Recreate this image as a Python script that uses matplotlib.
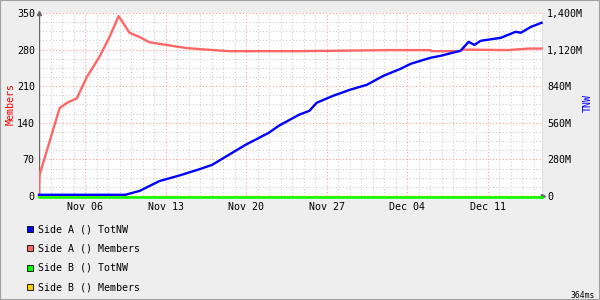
#!/usr/bin/env python3
"""Side A / Side B members and TotNW, rrdtool-style graph."""

import numpy as np
import pandas as pd
import matplotlib
matplotlib.use('Agg')
import matplotlib.pyplot as plt
import matplotlib.dates as mdates
import matplotlib.transforms as mtransforms
from matplotlib.patches import Rectangle
from matplotlib.ticker import FixedLocator, MultipleLocator

# Side A members (left axis)
members_t = ["2023-11-02 00:00", "2023-11-02 01:00", "2023-11-02 23:00", "2023-11-03 19:00",
             "2023-11-04 10:00", "2023-11-05 07:00", "2023-11-06 04:00", "2023-11-07 06:00",
             "2023-11-08 03:00", "2023-11-08 22:00", "2023-11-09 21:00", "2023-11-10 18:00",
             "2023-11-11 14:00", "2023-11-13 01:00", "2023-11-14 19:00", "2023-11-15 22:00",
             "2023-11-18 12:00", "2023-11-24 14:00", "2023-12-02 10:00", "2023-12-06 00:00",
             "2023-12-06 03:00", "2023-12-08 14:00", "2023-12-08 18:00", "2023-12-12 16:00",
             "2023-12-14 14:00", "2023-12-15 16:00"]
members_v = [0, 40, 107, 168, 178, 187, 228, 266, 304, 344, 312, 304, 294, 289, 283, 281,
             277, 277, 279, 279, 277, 277, 280, 279, 282, 282]

# Side A TotNW in millions (right axis)
totnw_t = ["2023-11-02 00:00", "2023-11-09 12:00", "2023-11-10 18:00", "2023-11-12 11:00",
           "2023-11-14 05:00", "2023-11-15 22:00", "2023-11-17 01:00", "2023-11-19 23:00",
           "2023-11-21 23:00", "2023-11-22 20:00", "2023-11-24 14:00", "2023-11-25 12:00",
           "2023-11-26 03:00", "2023-11-27 13:00", "2023-11-29 00:00", "2023-11-30 12:00",
           "2023-12-01 22:00", "2023-12-03 10:00", "2023-12-04 07:00", "2023-12-06 00:00",
           "2023-12-06 21:00", "2023-12-08 15:00", "2023-12-09 08:00", "2023-12-09 20:00",
           "2023-12-10 09:00", "2023-12-12 03:00", "2023-12-13 10:00", "2023-12-13 21:00",
           "2023-12-14 18:00", "2023-12-15 16:00"]
totnw_v = [0, 0, 30, 105, 148, 195, 229, 383, 474, 528, 612, 643, 704, 757, 803, 842, 910,
           964, 1002, 1048, 1063, 1102, 1170, 1147, 1178, 1201, 1247, 1240, 1285, 1316]

# Side B is flat zero over the whole range
side_b_t = ["2023-11-02 00:00", "2023-12-15 16:00"]
side_b_v = [0, 0]

legend_labels = ["Side A () TotNW", "Side A () Members", "Side B () TotNW", "Side B () Members"]
legend_colors = ["#0000FF", "#FF6666", "#00FF00", "#FFCC00"]

left_ticks = [0, 70, 140, 210, 280, 350]
right_ticks = [0, 280, 560, 840, 1120, 1400]
right_labels = ["0", "280M", "560M", "840M", "1,120M", "1,400M"]

MONO = "DejaVu Sans Mono"
FS = 7.2


def main():
    plt.rcParams['font.family'] = MONO
    fig = plt.figure(figsize=(6, 3), dpi=100, facecolor='#EEEEEE')
    ax = fig.add_axes([39 / 600, 1 - 196 / 300, 504 / 600, 183 / 300])
    ax.set_facecolor('white')
    ax2 = ax.twinx()

    mt = pd.to_datetime(members_t)
    tt = pd.to_datetime(totnw_t)
    bt = pd.to_datetime(side_b_t)

    ax.set_xlim(pd.Timestamp("2023-11-02 00:00"), pd.Timestamp("2023-12-15 19:00"))
    ax.set_ylim(0, 350)
    ax2.set_ylim(0, 1400)

    # grid
    ax.xaxis.set_major_locator(mdates.WeekdayLocator(byweekday=mdates.MO))
    ax.xaxis.set_minor_locator(mdates.DayLocator())
    ax.xaxis.set_major_formatter(mdates.DateFormatter('%b %d'))
    ax.yaxis.set_major_locator(FixedLocator(left_ticks))
    ax.yaxis.set_minor_locator(MultipleLocator(17.5))
    ax.grid(which='minor', color='#D0D0D0', ls=(0, (1, 2)), lw=0.8)
    ax.grid(which='major', color='#FFA0A0', ls=(0, (1, 2)), lw=0.8)
    ax.set_axisbelow(True)

    # rrdtool draws the zero lines on adjacent pixel rows, so nudge them apart
    up = mtransforms.offset_copy(ax2.transData, fig=fig, x=0, y=1.2, units='dots')
    down = mtransforms.offset_copy(ax2.transData, fig=fig, x=0, y=-0.8, units='dots')

    ax.plot(mt, members_v, color='#FF6666', lw=1.7, zorder=3)
    ax.plot(bt, side_b_v, color='#FFCC00', lw=1.6, zorder=3, clip_on=False,
            transform=mtransforms.offset_copy(ax.transData, fig=fig, x=0, y=-0.8, units='dots'))
    ax2.plot(bt, side_b_v, color='#00FF00', lw=1.8, zorder=3, clip_on=False, transform=down)
    ax2.plot(tt, totnw_v, color='#0000FF', lw=1.7, zorder=4, clip_on=False, transform=up)

    ax2.yaxis.set_major_locator(FixedLocator(right_ticks))
    ax2.set_yticklabels(right_labels)

    for a in (ax, ax2):
        a.tick_params(which='both', length=0, labelsize=FS, colors='black')
        for s in a.spines.values():
            s.set_visible(False)
    ax.tick_params(axis='y', pad=3)
    ax2.tick_params(axis='y', pad=3)
    ax.tick_params(axis='x', pad=4)

    # axis lines with arrows
    ax.axvline(ax.get_xlim()[0], color='#666666', lw=1.0, zorder=2)
    ax.axvline(ax.get_xlim()[1], color='#666666', lw=1.0, zorder=2)
    ax.plot([0], [1.0], marker='^', ms=3, color='#666666', transform=ax.transAxes, clip_on=False)
    ax.plot([1.0], [0], marker='>', ms=3, color='#666666', transform=ax.transAxes, clip_on=False, zorder=5)

    fig.text(11 / 600, 1 - 104 / 300, "Members", color='#FF0000', rotation=90,
             ha='center', va='center', fontsize=FS)
    fig.text(588 / 600, 1 - 103 / 300, "TNW", color='#0000FF', rotation=90,
             ha='center', va='center', fontsize=FS)

    # legend
    for i, (lab, col) in enumerate(zip(legend_labels, legend_colors)):
        yc = 229 + i * 19.4
        fig.patches.append(Rectangle((27 / 600, 1 - (yc + 3) / 300), 6 / 600, 6 / 300,
                                     transform=fig.transFigure, facecolor=col,
                                     edgecolor='black', lw=0.6))
        fig.text(38 / 600, 1 - yc / 300, lab, ha='left', va='center', fontsize=FS)

    fig.text(595 / 600, 1 - 295 / 300, "364ms", ha='right', va='center', fontsize=5.8)

    fig.patches.append(Rectangle((0, 0), 1, 1, transform=fig.transFigure, fill=False,
                                 edgecolor='#A0A0A0', lw=1.5))

    fig.savefig("out.png", dpi=100, facecolor=fig.get_facecolor())


if __name__ == "__main__":
    main()
